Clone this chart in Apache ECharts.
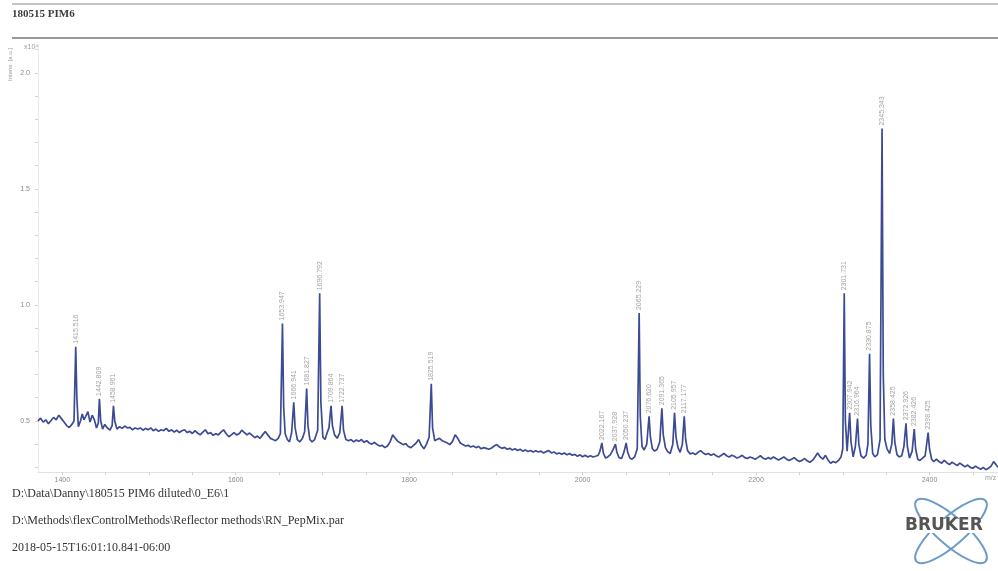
<!DOCTYPE html>
<html><head><meta charset="utf-8">
<script src="https://cdn.jsdelivr.net/npm/echarts@6/dist/echarts.min.js"></script>
<style>html,body{margin:0;padding:0;background:#fff}#c{width:998px;height:571px}</style>
</head><body><div id="c"></div>
<script>
// spectrum trace (m/z, intensity x10^4)
const specMz = [1372,1375,1378,1381,1384,1387,1390,1393,1396,1399,1402,1405,1408,1411,1413.5,1415.5,1416.8,1418.5,1421,1423,1425,1427,1429.5,1432,1434.5,1437,1439.5,1441.5,1442.8,1444.3,1446.5,1449,1452,1455,1457.5,1459,1460.5,1463,1466,1469,1472,1475,1478,1481,1484,1487,1490,1493,1496,1499,1502,1505,1508,1511,1514,1517,1520,1523,1526,1529,1532,1535,1538,1541,1544,1547,1550,1553,1556,1559,1562,1565,1568,1571,1574,1577,1580,1583,1586,1589,1592,1595,1598,1601,1604,1607,1610,1613,1616,1619,1622,1625,1628,1631,1634,1637,1640,1643,1646,1649,1651.5,1653.9,1655.3,1657,1659.5,1662,1664.5,1666.9,1668.5,1671,1674,1677,1679.5,1681.8,1683.3,1685.5,1688,1691,1694.5,1696.8,1698.2,1700.5,1703,1705.5,1707.5,1709.9,1711.5,1714,1717,1720,1722.7,1724.3,1727,1730,1733,1736,1739,1742,1745,1748,1751,1754,1757,1760,1763,1766,1769,1772,1775,1778,1781,1784,1787,1790,1793,1796,1799,1802,1805,1808,1811,1814,1817,1820,1823,1825.5,1827,1829.5,1832,1835,1838,1841,1844,1847,1850,1853,1856,1859,1862,1865,1868,1871,1874,1877,1880,1883,1886,1889,1892,1895,1898,1901,1904,1907,1910,1913,1916,1919,1922,1925,1928,1931,1934,1937,1940,1943,1946,1949,1952,1955,1958,1961,1964,1967,1970,1973,1976,1979,1982,1985,1988,1991,1994,1997,2000,2003,2006,2009,2012,2015,2018,2020,2022.2,2024,2026.5,2029,2032,2035,2037.9,2039.5,2042,2045,2048,2050.2,2052,2054.5,2057,2060,2063,2065.2,2066.5,2068.5,2071,2074,2076.6,2078.2,2080.5,2083,2086,2089,2091.4,2093,2095.5,2098,2101,2104,2106,2107.7,2110,2112.5,2115,2117.2,2118.8,2121,2124,2127,2130,2133,2136,2139,2142,2145,2148,2151,2154,2157,2160,2163,2166,2169,2172,2175,2178,2181,2184,2187,2190,2193,2196,2199,2202,2205,2208,2211,2214,2217,2220,2223,2226,2229,2232,2235,2238,2241,2244,2247,2250,2253,2256,2259,2262,2265,2268,2271,2274,2277,2280,2283,2286,2289,2292,2295,2298,2300,2301.7,2303,2305,2307.9,2309.5,2312,2314.5,2317,2318.5,2321,2324,2327,2329,2330.9,2332.3,2334.5,2337,2340,2343,2345.3,2346.7,2348.5,2351,2354,2356.5,2358.4,2360,2362.5,2365,2368,2370.5,2372.9,2374.5,2377,2380,2382.4,2384,2386.5,2389,2392,2395,2398.4,2400,2402.5,2405,2408,2411,2414,2417,2420,2423,2426,2429,2432,2435,2438,2441,2444,2447,2450,2453,2456,2459,2462,2465,2468,2471,2474,2477,2479];
const specInt = [0.500,0.512,0.495,0.505,0.488,0.502,0.515,0.505,0.525,0.510,0.495,0.480,0.472,0.485,0.500,0.820,0.600,0.475,0.500,0.530,0.505,0.520,0.540,0.495,0.525,0.505,0.470,0.490,0.595,0.500,0.465,0.485,0.470,0.460,0.480,0.565,0.500,0.465,0.475,0.468,0.478,0.470,0.472,0.462,0.470,0.465,0.470,0.460,0.468,0.462,0.470,0.458,0.465,0.455,0.462,0.458,0.468,0.455,0.462,0.452,0.460,0.450,0.458,0.462,0.450,0.455,0.446,0.458,0.448,0.440,0.452,0.462,0.445,0.450,0.438,0.445,0.440,0.452,0.462,0.445,0.432,0.440,0.450,0.440,0.445,0.460,0.450,0.440,0.448,0.438,0.428,0.435,0.425,0.440,0.455,0.440,0.425,0.420,0.415,0.425,0.445,0.920,0.560,0.445,0.420,0.410,0.450,0.580,0.470,0.420,0.410,0.425,0.455,0.640,0.480,0.420,0.410,0.420,0.460,1.050,0.580,0.430,0.420,0.450,0.470,0.565,0.480,0.440,0.425,0.450,0.565,0.460,0.420,0.415,0.420,0.410,0.418,0.412,0.420,0.408,0.415,0.405,0.400,0.408,0.398,0.392,0.395,0.385,0.392,0.410,0.440,0.425,0.412,0.405,0.398,0.402,0.390,0.385,0.395,0.405,0.420,0.395,0.380,0.400,0.430,0.660,0.470,0.415,0.420,0.425,0.415,0.410,0.405,0.398,0.412,0.440,0.425,0.405,0.398,0.392,0.395,0.388,0.392,0.385,0.390,0.380,0.385,0.382,0.378,0.383,0.392,0.398,0.388,0.382,0.386,0.378,0.382,0.375,0.380,0.373,0.378,0.370,0.375,0.368,0.373,0.366,0.372,0.366,0.370,0.362,0.368,0.372,0.362,0.366,0.358,0.362,0.356,0.362,0.354,0.360,0.352,0.356,0.348,0.354,0.346,0.352,0.345,0.350,0.345,0.348,0.352,0.370,0.405,0.360,0.340,0.345,0.355,0.375,0.400,0.365,0.342,0.338,0.370,0.405,0.365,0.340,0.335,0.345,0.380,0.965,0.520,0.390,0.375,0.400,0.520,0.430,0.380,0.370,0.378,0.410,0.555,0.440,0.385,0.368,0.360,0.400,0.535,0.430,0.385,0.365,0.400,0.520,0.420,0.372,0.358,0.362,0.355,0.365,0.372,0.362,0.355,0.360,0.352,0.358,0.350,0.345,0.352,0.360,0.350,0.345,0.352,0.348,0.340,0.345,0.352,0.342,0.338,0.345,0.340,0.335,0.342,0.350,0.340,0.335,0.342,0.336,0.345,0.338,0.332,0.338,0.345,0.336,0.330,0.335,0.342,0.332,0.325,0.330,0.338,0.328,0.322,0.330,0.345,0.362,0.345,0.335,0.352,0.332,0.318,0.325,0.320,0.330,0.345,0.380,1.050,0.500,0.370,0.535,0.410,0.345,0.390,0.510,0.400,0.350,0.340,0.352,0.400,0.790,0.480,0.360,0.345,0.355,0.420,1.760,0.700,0.420,0.380,0.360,0.400,0.510,0.410,0.355,0.345,0.350,0.390,0.490,0.390,0.340,0.370,0.465,0.380,0.335,0.330,0.340,0.350,0.450,0.380,0.335,0.325,0.335,0.325,0.318,0.330,0.320,0.312,0.322,0.315,0.308,0.318,0.310,0.302,0.310,0.300,0.296,0.305,0.298,0.292,0.300,0.290,0.296,0.305,0.325,0.310,0.300];

// annotated peaks
const peakMz  = [1415.516,1442.809,1458.961,1653.947,1666.941,1681.827,1696.792,1709.864,1722.737,1825.519,2022.167,2037.928,2050.237,2065.229,2076.620,2091.365,2105.957,2117.177,2301.731,2307.942,2316.964,2330.875,2345.343,2358.425,2372.926,2382.426,2398.425];
const peakInt = [0.820,0.595,0.565,0.920,0.580,0.640,1.050,0.565,0.565,0.660,0.405,0.400,0.405,0.965,0.520,0.555,0.535,0.520,1.050,0.535,0.510,0.790,1.760,0.510,0.490,0.465,0.450];
const peakLabels = ["1415.516","1442.809","1458.961","1653.947","1666.941","1681.827","1696.792","1709.864","1722.737","1825.519","2022.167","2037.928","2050.237","2065.229","2076.620","2091.365","2105.957","2117.177","2301.731","2307.942","2316.964","2330.875","2345.343","2358.425","2372.926","2382.426","2398.425"];

const xTickLabels = [1400,1600,1800,2000,2200,2400];
const xMinorTicks = [1400,1450,1500,1550,1600,1650,1700,1750,1800,1850,1900,1950,2000,2050,2100,2150,2200,2250,2300,2350,2400,2450];
const yTickLabels = [0.5,1.0,1.5,2.0];
const yMinorTicks = [0.3,0.4,0.5,0.6,0.7,0.8,0.9,1.0,1.1,1.2,1.3,1.4,1.5,1.6,1.7,1.8,1.9,2.0,2.1];

const footer = ["D:\\Data\\Danny\\180515 PIM6 diluted\\0_E6\\1",
                "D:\\Methods\\flexControlMethods\\Reflector methods\\RN_PepMix.par",
                "2018-05-15T16:01:10.841-06:00"];

const chart = echarts.init(document.getElementById('c'));
const line = specMz.map((m,i)=>[m,specInt[i]]);
const peaks = peakMz.map((m,i)=>[m,peakInt[i],peakLabels[i]]);
const gray = '#8a8a8a';
chart.setOption({
  animation:false,
  backgroundColor:'#fff',
  grid:{left:38,right:0,top:45,bottom:99},
  xAxis:{type:'value',min:1372,max:2479,
    axisLine:{show:true,lineStyle:{color:'#e2e2e2'}},
    axisTick:{show:true,length:3,lineStyle:{color:'#cfcfcf'},customValues:xMinorTicks},
    axisLabel:{color:gray,fontSize:7,fontFamily:'Liberation Sans',margin:5,customValues:xTickLabels,formatter:v=>String(v)},
    splitLine:{show:false}},
  yAxis:{type:'value',min:0.28,max:2.12,
    axisLine:{show:true,lineStyle:{color:'#e6e6e6',type:'dotted'}},
    axisTick:{show:true,length:3,lineStyle:{color:'#d4d4d4'},customValues:yMinorTicks},
    axisLabel:{color:gray,fontSize:7,fontFamily:'Liberation Sans',margin:8,customValues:yTickLabels,formatter:v=>v.toFixed(1)},
    splitLine:{show:false}},
  series:[
    {type:'line',data:line,symbol:'none',lineStyle:{color:'#3d4b94',width:1.7},z:2},
    {type:'scatter',data:peaks,symbolSize:0,z:3,
     label:{show:true,position:'top',distance:3,rotate:90,align:'left',verticalAlign:'middle',
       color:'#8c8c8c',fontSize:7,fontFamily:'Liberation Sans',formatter:p=>p.value[2]}}
  ],
  graphic:[
    {type:'line',shape:{x1:12,y1:4,x2:998,y2:4},style:{stroke:'#888',lineWidth:1}},
    {type:'line',shape:{x1:12,y1:38,x2:998,y2:38},style:{stroke:'#777',lineWidth:1.5}},
    {type:'text',left:12,top:9,style:{text:'180515 PIM6',font:'bold 11px "Liberation Serif"',fill:'#3a3a3a'}},
    {type:'text',left:24,top:44,style:{text:'x10⁴',font:'7px "Liberation Sans"',fill:'#999'}},
    {type:'text',x:10,y:48,rotation:Math.PI/2,style:{text:'Intens. [a.u.]',font:'6px "Liberation Sans"',fill:'#999',align:'right',verticalAlign:'middle'}},
    {type:'text',left:985,top:475,style:{text:'m/z',font:'7px "Liberation Sans"',fill:'#999'}},
    {type:'text',left:12,top:488,style:{text:footer[0],font:'12px "Liberation Serif"',fill:'#333'}},
    {type:'text',left:12,top:515,style:{text:footer[1],font:'12px "Liberation Serif"',fill:'#333'}},
    {type:'text',left:12,top:542,style:{text:footer[2],font:'12px "Liberation Serif"',fill:'#333'}},
    {type:'group',x:951,y:531,children:[
      {type:'ellipse',shape:{cx:0,cy:0,rx:46,ry:14},rotation:0.72,style:{fill:'none',stroke:'#6d9bc9',lineWidth:2}},
      {type:'ellipse',shape:{cx:0,cy:0,rx:46,ry:14},rotation:-0.72,style:{fill:'none',stroke:'#6d9bc9',lineWidth:2}}
    ]},
    {type:'rect',shape:{x:904,y:519,width:95,height:14},style:{fill:'#fff'}},
    {type:'text',left:905,top:517,style:{text:'BRUKER',font:'bold 17px "DejaVu Sans"',fill:'#555'}}
  ]
});
</script></body></html>
